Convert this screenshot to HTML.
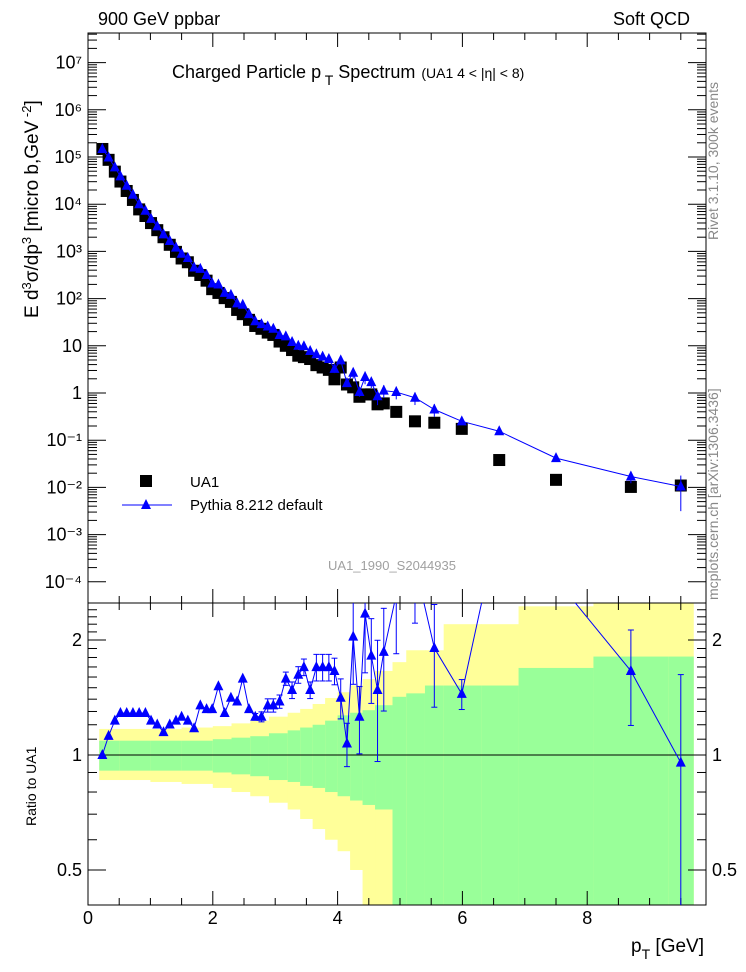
<!DOCTYPE html>
<html><head><meta charset="utf-8"><style>
html,body{margin:0;padding:0;background:#fff;}
svg{display:block;font-family:"Liberation Sans",sans-serif;}
</style></head><body>
<svg id="c" width="746" height="972" viewBox="0 0 746 972" xmlns="http://www.w3.org/2000/svg">
<text x="98" y="25" font-size="18">900 GeV ppbar</text>
<text x="690" y="25" font-size="18" text-anchor="end">Soft QCD</text>
<text x="172" y="78" font-size="18">Charged Particle p<tspan dy="7" font-size="14"> T</tspan><tspan dy="-7"> Spectrum</tspan><tspan font-size="14" dx="6">(UA1   4 &lt; |η| &lt; 8)</tspan></text>
<text x="392" y="570" font-size="13" fill="#a0a0a0" text-anchor="middle">UA1_1990_S2044935</text>
<text transform="translate(718,240) rotate(-90)" font-size="14" fill="#888">Rivet 3.1.10,  300k events</text>
<text transform="translate(718,600) rotate(-90)" font-size="14" fill="#888">mcplots.cern.ch [arXiv:1306.3436]</text>
<text transform="translate(38,318) rotate(-90)" font-size="19">E d<tspan dy="-7" font-size="13">3</tspan><tspan dy="7">σ/dp</tspan><tspan dy="-7" font-size="13">3</tspan><tspan dy="7"> [micro b,GeV</tspan><tspan dy="-7" font-size="13"> -2</tspan><tspan dy="7">]</tspan></text>
<text transform="translate(36,826) rotate(-90)" font-size="14">Ratio to UA1</text>
<text x="704" y="952" font-size="19" text-anchor="end">p<tspan dy="7" font-size="14">T</tspan><tspan dy="-7"> [GeV]</tspan></text>
<g id="bands"></g><g id="axes"></g><g id="marks"></g>
<rect x="140" y="475" width="12" height="12" fill="#000"/>
<text x="190" y="487" font-size="15">UA1</text>
<line x1="122" y1="505" x2="172" y2="505" stroke="#00f"/>
<polygon points="146,499 151,509 141,509" fill="#00f"/>
<text x="190" y="510" font-size="15">Pythia 8.212 default</text>
</svg>
<script>
const xs = [0.23,0.33,0.43,0.52,0.62,0.72,0.82,0.92,1.01,1.11,1.21,1.31,1.41,1.50,1.60,1.70,1.80,1.90,1.99,2.09,2.19,2.29,2.39,2.48,2.58,2.68,2.78,2.88,2.97,3.07,3.17,3.27,3.37,3.46,3.56,3.66,3.76,3.86,3.95,4.05,4.15,4.25,4.35,4.44,4.54,4.64,4.74,4.94,5.24,5.55,5.99,6.59,7.5,8.7,9.5];
const ua1Log = [5.17,4.94,4.69,4.48,4.28,4.09,3.89,3.75,3.60,3.45,3.30,3.14,2.99,2.85,2.77,2.59,2.50,2.38,2.20,2.12,2.01,1.93,1.76,1.67,1.55,1.42,1.36,1.28,1.23,1.09,1.00,0.91,0.79,0.76,0.72,0.59,0.54,0.49,0.29,0.54,0.18,0.12,-0.08,-0.03,-0.03,-0.24,-0.22,-0.40,-0.60,-0.63,-0.76,-1.42,-1.84,-1.99,-1.96];
const pythiaLog = [5.17,4.99,4.78,4.59,4.39,4.20,4.00,3.86,3.69,3.53,3.36,3.22,3.08,2.95,2.86,2.66,2.63,2.50,2.32,2.30,2.12,2.08,1.90,1.87,1.67,1.52,1.46,1.41,1.36,1.23,1.20,1.08,1.00,0.99,0.89,0.82,0.77,0.72,0.51,0.69,0.21,0.43,0.02,0.34,0.23,-0.07,0.05,0.02,-0.10,-0.35,-0.60,-0.81,-1.38,-1.77,-1.98];
const relErr = [0,0,0,0,0,0,0,0,0,0,0,0,0,0,0,0,0,0,0,0,0,0,0,0,0,0.02,0.03,0.04,0.04,0.04,0.04,0.05,0.05,0.05,0.05,0.08,0.08,0.08,0.08,0.12,0.13,0.25,0.2,0.3,0.25,0.35,0.3,0.3,0.3,0.3,0.09,0.1,0.1,0.28,0.7];
const bandEdges = [0.18,0.5,1.0,1.5,2.0,2.3,2.6,2.9,3.2,3.4,3.6,3.8,4.0,4.2,4.4,4.6,4.88,5.1,5.4,5.7,6.3,6.9,8.1,9.3,9.7];
const g1Up = [1.09,1.09,1.09,1.09,1.10,1.11,1.12,1.14,1.16,1.18,1.20,1.23,1.27,1.29,1.31,1.35,1.42,1.45,1.52,1.52,1.52,1.69,1.81,1.81];
const g1Lo = [0.91,0.91,0.91,0.91,0.90,0.89,0.88,0.86,0.85,0.83,0.82,0.80,0.78,0.76,0.74,0.72,0.3,0.3,0.3,0.3,0.3,0.3,0.3,0.3];
const y2Up = [1.17,1.17,1.17,1.18,1.19,1.21,1.23,1.26,1.29,1.32,1.36,1.41,1.46,1.52,1.58,1.66,1.75,1.88,1.88,2.2,2.2,2.45,3,3];
const y2Lo = [0.86,0.86,0.85,0.84,0.82,0.80,0.78,0.75,0.72,0.68,0.64,0.60,0.56,0.50,0.40,0.3,0.3,0.3,0.3,0.3,0.3,0.3,0.3,0.3];

const NS='http://www.w3.org/2000/svg';
const X0=88,X1=706,T=33,MID=603,B=905;
const sx=v=>88+62.4*v;
const sy=l=>393-47.2*l;
const sr=r=>Math.max(T+570,Math.min(B,755-115*Math.log2(r)));
function mk(par,tag,at){const e=document.createElementNS(NS,tag);for(const k in at)e.setAttribute(k,at[k]);document.getElementById(par).appendChild(e);return e;}

for(let i=0;i<g1Up.length;i++){
  const x1=sx(bandEdges[i]),x2=Math.min(sx(bandEdges[i+1]),X1);
  let e=mk('bands','rect',{x:x1,y:sr(y2Up[i]),width:x2-x1+0.5,height:sr(y2Lo[i])-sr(y2Up[i]),fill:'#ffff99'});
  
  
  e=mk('bands','rect',{x:x1,y:sr(g1Up[i]),width:x2-x1+0.5,height:sr(g1Lo[i])-sr(g1Up[i]),fill:'#99ff99'});
  
  
}
mk('axes','rect',{x:X0,y:T,width:X1-X0,height:MID-T,fill:'none',stroke:'#000'});
mk('axes','rect',{x:X0,y:MID,width:X1-X0,height:B-MID,fill:'none',stroke:'#000'});
mk('axes','line',{x1:X0,y1:755,x2:X1,y2:755,stroke:'#000'});
for(let v=0;v<=9.9;v+=0.5){
  const x=sx(v),L=(Math.abs(v%2)<1e-6)?14:7;
  for(const [y,d] of [[T,1],[MID,-1],[MID,1],[B,-1]]) mk('axes','line',{x1:x,y1:y,x2:x,y2:y+d*L,stroke:'#000'});
  if(Math.abs(v%2)<1e-6){const t=mk('axes','text',{x:x,y:924,'font-size':18,'text-anchor':'middle'});t.textContent=v;
  
  }
}
const yLabels=['10⁻⁴','10⁻³','10⁻²','10⁻¹','1','10','10²','10³','10⁴','10⁵','10⁶','10⁷'];
for(let p=-4;p<=7;p++){
  const y=sy(p);
  mk('axes','line',{x1:X0,y1:y,x2:X0+18,y2:y,stroke:'#000'});
  mk('axes','line',{x1:X1,y1:y,x2:X1-18,y2:y,stroke:'#000'});
  for(let m=2;m<10;m++){const ym=sy(p+Math.log10(m));if(ym>T){mk('axes','line',{x1:X0,y1:ym,x2:X0+9,y2:ym,stroke:'#000'});mk('axes','line',{x1:X1,y1:ym,x2:X1-9,y2:ym,stroke:'#000'});}}
  const t=mk('axes','text',{x:82,y:y+6,'font-size':18,'text-anchor':'end'});t.textContent=yLabels[p+4];
  
  
}
for(let r=0.5;r<=2.5001;r+=0.1){
  const y=sr(r),maj=[0.5,1,2].some(v=>Math.abs(v-r)<1e-6),L=maj?18:9;
  if(y<=MID+1)continue;
  mk('axes','line',{x1:X0,y1:y,x2:X0+L,y2:y,stroke:'#000'});mk('axes','line',{x1:X1,y1:y,x2:X1-L,y2:y,stroke:'#000'});
}
for(const r of [0.5,1,2]){
  for(const [x,a] of [[82,'end'],[712,'start']]){const t=mk('axes','text',{x:x,y:sr(r)+6,'font-size':18,'text-anchor':a});t.textContent=r;
  
  }
}
const clip=mk('marks','clipPath',{id:'rc'});
const cr=document.createElementNS(NS,'rect');cr.setAttribute('x',X0);cr.setAttribute('y',MID);cr.setAttribute('width',X1-X0);cr.setAttribute('height',B-MID);clip.appendChild(cr);
let pl=[],rl=[];
for(let i=0;i<xs.length;i++){
  const x=sx(xs[i]);
  const s=mk('marks','rect',{x:x-6,y:sy(ua1Log[i])-6,width:12,height:12,fill:'#000'});
  
  
  pl.push(x+','+sy(pythiaLog[i]));
  const ratio=Math.pow(10,pythiaLog[i]-ua1Log[i]);
  rl.push(x+','+(755-115*Math.log2(ratio)));
}
const l1=mk('marks','polyline',{points:pl.join(' '),fill:'none',stroke:'#00f','stroke-width':1});


const l2=mk('marks','polyline',{points:rl.join(' '),fill:'none',stroke:'#00f','stroke-width':1,'clip-path':'url(#rc)'});


function tri(x,y,name,cp){const e=mk('marks','polygon',{points:`${x},${y-6} ${x+5},${y+4} ${x-5},${y+4}`,fill:'#00f'});if(cp)e.setAttribute('clip-path','url(#rc)');
  
  }
for(let i=0;i<xs.length;i++){
  const x=sx(xs[i]),y=sy(pythiaLog[i]),e=relErr[i];
  if(e>0){const yt=sy(pythiaLog[i]+Math.log10(1+e)),yb=sy(pythiaLog[i]+Math.log10(Math.max(1-e,0.05)));
    mk('marks','line',{x1:x,y1:yt,x2:x,y2:yb,stroke:'#00f'});}
  tri(x,y,'pythia-point',false);
  const ratio=Math.pow(10,pythiaLog[i]-ua1Log[i]);
  const ry=755-115*Math.log2(ratio);
  if(e>0){mk('marks','line',{x1:x,y1:755-115*Math.log2(ratio*(1+e)),x2:x,y2:755-115*Math.log2(ratio*Math.max(1-e,0.05)),stroke:'#00f','clip-path':'url(#rc)'});
    for(const r of [ratio*(1+e),ratio*Math.max(1-e,0.05)])mk('marks','line',{x1:x-3,y1:755-115*Math.log2(r),x2:x+3,y2:755-115*Math.log2(r),stroke:'#00f','clip-path':'url(#rc)'});}
  tri(x,ry,'pythia-ratio-point',true);
}
</script>
</body></html>
